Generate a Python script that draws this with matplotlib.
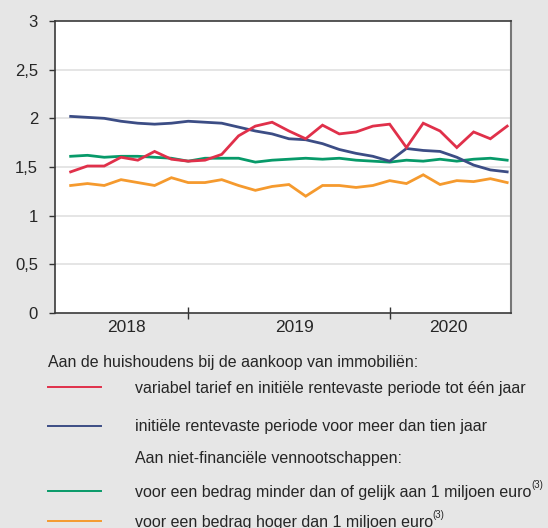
import matplotlib
matplotlib.use("Agg")
import matplotlib.pyplot as plt
import numpy as np

plt.rcParams['font.family'] = ['Liberation Sans', 'DejaVu Sans']

# Data (monthly, 27 points)
red = [1.45, 1.51, 1.51, 1.60, 1.57, 1.66, 1.58, 1.56, 1.57, 1.63, 1.82, 1.92, 1.96, 1.87,
       1.79, 1.93, 1.84, 1.86, 1.92, 1.94, 1.70, 1.95, 1.87, 1.70, 1.86, 1.79, 1.92]
blue = [2.02, 2.01, 2.00, 1.97, 1.95, 1.94, 1.95, 1.97, 1.96, 1.95, 1.91, 1.87, 1.84, 1.79,
        1.78, 1.74, 1.68, 1.64, 1.61, 1.56, 1.69, 1.67, 1.66, 1.60, 1.52, 1.47, 1.45]
green = [1.61, 1.62, 1.60, 1.61, 1.61, 1.60, 1.59, 1.56, 1.59, 1.59, 1.59, 1.55, 1.57, 1.58,
         1.59, 1.58, 1.59, 1.57, 1.56, 1.55, 1.57, 1.56, 1.58, 1.56, 1.58, 1.59, 1.57]
orange = [1.31, 1.33, 1.31, 1.37, 1.34, 1.31, 1.39, 1.34, 1.34, 1.37, 1.31, 1.26, 1.30, 1.32,
          1.20, 1.31, 1.31, 1.29, 1.31, 1.36, 1.33, 1.42, 1.32, 1.36, 1.35, 1.38, 1.34]

years = ['2018', '2019', '2020']
year_label_pos = [3.3, 13.35, 22.5]
year_bounds = [7, 19]
yticks = [0, 0.5, 1, 1.5, 2, 2.5, 3]
ytick_labels = ['0', '0,5', '1', '1,5', '2', '2,5', '3']

labels = [
    'variabel tarief en initiële rentevaste periode tot één jaar',
    'initiële rentevaste periode voor meer dan tien jaar',
    'voor een bedrag minder dan of gelijk aan 1 miljoen euro',
    'voor een bedrag hoger dan 1 miljoen euro',
]
header1 = 'Aan de huishoudens bij de aankoop van immobiliën:'
header2 = 'Aan niet-financiële vennootschappen:'

c_red = '#e0304a'
c_blue = '#3c4d85'
c_green = '#079a69'
c_orange = '#f59a2e'
bg = '#e6e6e6'
txt = '#262626'

W, H = 548, 528
fig = plt.figure(figsize=(W / 100, H / 100), dpi=100)
fig.patch.set_facecolor(bg)

ax = fig.add_axes([54.7 / W, (H - 313) / H, 456 / W, 292 / H])
ax.set_facecolor('white')

x = np.arange(len(red))
for ser, col in [(orange, c_orange), (green, c_green), (blue, c_blue), (red, c_red)]:
    ax.plot(x, ser, color=col, lw=2.0, solid_joinstyle='miter', zorder=3)

ax.set_xlim(-0.95, 26.21)
ax.set_ylim(0, 3)

for v in [0.5, 1, 1.5, 2, 2.5]:
    ax.axhline(v, color='#e3e3e3', lw=1.3, zorder=1)

ax.set_yticks(yticks)
ax.set_yticklabels(ytick_labels)
ax.tick_params(axis='y', direction='out', length=4, width=1, color='#333333',
               pad=8, labelsize=12, labelcolor=txt)

ax.set_xticks(year_bounds)
ax.set_xticklabels(['', ''])
ax.tick_params(axis='x', which='major', direction='inout', length=8, width=1, color='#333333')
ax.set_xticks(year_label_pos, minor=True)
ax.set_xticklabels(years, minor=True)
ax.tick_params(axis='x', which='minor', length=0, pad=5, labelsize=12.5, labelcolor=txt)

for s in ['left', 'bottom', 'top']:
    ax.spines[s].set_color('#3a3a3a')
    ax.spines[s].set_linewidth(1.2)
ax.spines['right'].set_color('#777777')
ax.spines['right'].set_linewidth(1.5)

# Legend
fs = 11.55
fig.text(48 / W, 1 - 363 / H, header1, fontsize=fs, color=txt, va='center', ha='left')
fig.text(134.6 / W, 1 - 458 / H, header2, fontsize=fs, color=txt, va='center', ha='left')

rows = [(387, c_red, labels[0], False), (426, c_blue, labels[1], False),
        (491, c_green, labels[2], True), (521, c_orange, labels[3], True)]
for yy, col, lab, sup in rows:
    fig.add_artist(plt.Line2D([48 / W, 101 / W], [1 - yy / H, 1 - yy / H],
                              color=col, lw=1.4, transform=fig.transFigure))
    t = fig.text(134.6 / W, 1 - (yy + 1) / H, lab, fontsize=fs, color=txt,
                 va='center', ha='left')
    if sup:
        ax.annotate('(3)', xy=(1.0, 0.6), xycoords=t, fontsize=7, color=txt,
                    ha='left', va='bottom', annotation_clip=False)

fig.savefig('out.png', dpi=100, facecolor=bg)
